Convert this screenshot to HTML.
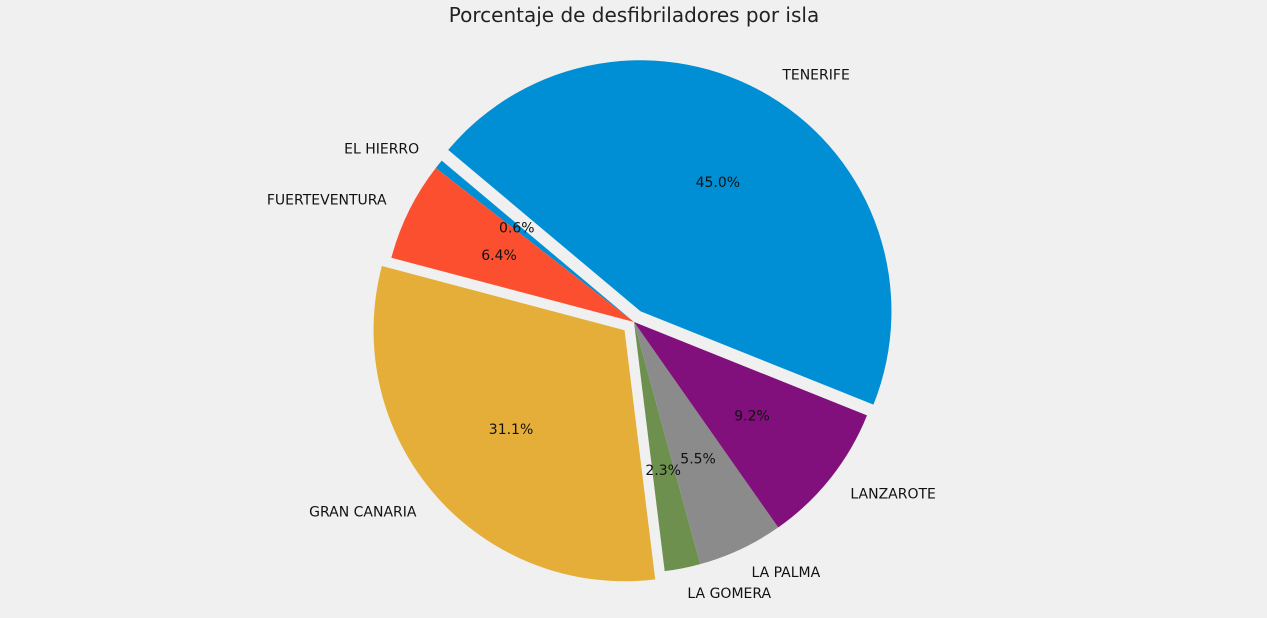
<!DOCTYPE html>
<html><head><meta charset="utf-8"><style>
html,body{margin:0;padding:0;background:#f0f0f0;}
svg{display:block;font-family:"DejaVu Sans","Liberation Sans",sans-serif;}
</style></head><body>
<svg id="chart" width="1267" height="618" viewBox="0 0 1267 618">
<rect width="1267" height="618" fill="#f0f0f0"/>
<text x="634" y="22" text-anchor="middle" font-size="20" fill="#222">Porcentaje de desfibriladores por isla</text>
<g id="slices"></g>
</svg>
<script>
const categories = ["EL HIERRO","FUERTEVENTURA","GRAN CANARIA","LA GOMERA","LA PALMA","LANZAROTE","TENERIFE"];
const values = [0.6, 6.4, 31.1, 2.3, 5.5, 9.2, 45.0];
const explodes = [0, 0, 0.05, 0, 0, 0, 0.05];
const colors = ["#008fd5","#fc4f30","#e5ae38","#6d904f","#8b8b8b","#810f7c","#008fd5"];
const cx = 634, cy = 322, R = 251, startAngle = 140;
const g = document.getElementById('slices');
const NS = "http://www.w3.org/2000/svg";
const total = values.reduce((a,b)=>a+b,0);
let a0 = startAngle;
function pt(ox,oy,r,deg){const t=deg*Math.PI/180;return [ox+r*Math.cos(t), oy-r*Math.sin(t)];}
const texts = [];
values.forEach((v,i)=>{
  const sweep = v/total*360, a1 = a0+sweep, mid = (a0+a1)/2;
  const [ox,oy] = pt(cx,cy,explodes[i]*R,mid);
  const [x0,y0] = pt(ox,oy,R,a0), [x1,y1] = pt(ox,oy,R,a1);
  const p = document.createElementNS(NS,'path');
  p.setAttribute('d',`M${ox},${oy} L${x0},${y0} A${R},${R} 0 ${sweep>180?1:0} 0 ${x1},${y1} Z`);
  p.setAttribute('fill',colors[i]);
  
  
  g.appendChild(p);
  const [lx,ly] = pt(ox,oy,R*1.1,mid);
  const lt = document.createElementNS(NS,'text');
  lt.setAttribute('x',lx); lt.setAttribute('y',ly+5);
  lt.setAttribute('text-anchor', Math.cos(mid*Math.PI/180)>=0?'start':'end');
  lt.setAttribute('font-size','14'); lt.setAttribute('fill','#111');
  lt.textContent = categories[i];
  
  
  texts.push(lt);
  const [px,py] = pt(ox,oy,R*0.6,mid);
  const pc = document.createElementNS(NS,'text');
  pc.setAttribute('x',px); pc.setAttribute('y',py+5);
  pc.setAttribute('text-anchor','middle');
  pc.setAttribute('font-size','14'); pc.setAttribute('fill','#111');
  pc.textContent = v.toFixed(1)+'%';
  
  
  texts.push(pc);
  a0 = a1;
});
texts.forEach(t=>g.appendChild(t));
</script>
</body></html>
